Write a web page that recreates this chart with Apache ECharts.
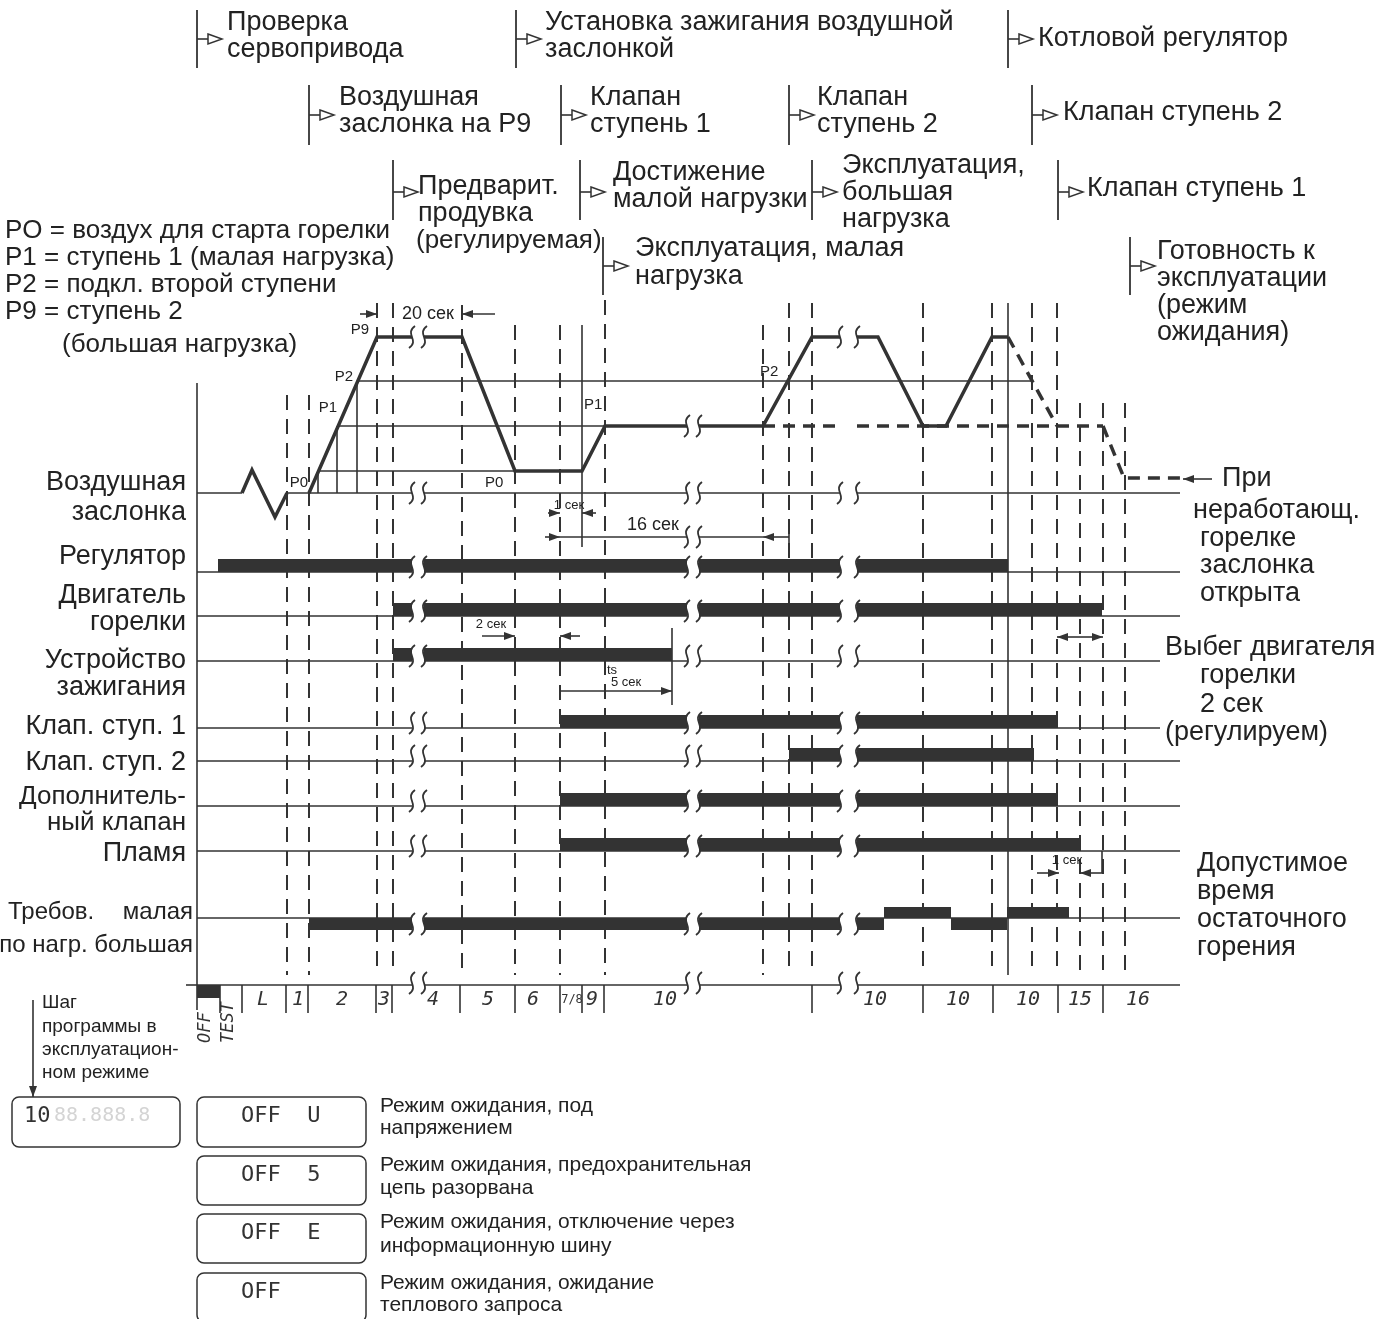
<!DOCTYPE html>
<html>
<head>
<meta charset="utf-8">
<script src="https://cdn.jsdelivr.net/npm/echarts@6/dist/echarts.min.js"></script>
<style>
  html, body { margin: 0; background: #fff; }
  #chart { width: 1396px; height: 1319px; }
</style>
</head>
<body>
<div id="chart"></div>
<script>
// ---- данные диаграммы (ось X = время программы, ось Y = уровень) ----
const breaks = [[412, 424], [687, 699], [840, 857]];   // разрывы шкалы времени
const xStart = 197;

// положения воздушной заслонки
const lvl = { base: 493, P0: 471, P1: 426, P2: 381, P9: 337, open: 478 };

// профиль заслонки
const damperSolid = [
  [[242, lvl.base], [252, 470], [275, 517], [287, lvl.base]],
  [[309, lvl.base], [377, lvl.P9], [412, lvl.P9]],
  [[424, lvl.P9], [462, lvl.P9], [515, lvl.P0], [582, lvl.P0], [605, lvl.P1], [687, lvl.P1]],
  [[699, lvl.P1], [763, lvl.P1], [812, lvl.P9], [840, lvl.P9]],
  [[857, lvl.P9], [878, lvl.P9], [923, lvl.P1], [946, lvl.P1], [992, lvl.P9], [1008, lvl.P9]]
];
const damperDashed = [
  [[763, lvl.P1], [840, lvl.P1]],
  [[857, lvl.P1], [1103, lvl.P1]],
  [[1008, lvl.P9], [1057, lvl.P1]],
  [[1103, lvl.P1], [1124, lvl.open], [1180, lvl.open]]
];
const damperThin = [
  [[xStart, lvl.base], [242, lvl.base]], [[287, lvl.base], [412, lvl.base]],
  [[424, lvl.base], [687, lvl.base]], [[699, lvl.base], [840, lvl.base]], [[857, lvl.base], [1180, lvl.base]],
  [[318, lvl.P0], [515, lvl.P0]], [[337, lvl.P1], [605, lvl.P1]], [[357, lvl.P2], [1032, lvl.P2]],
  [[318, lvl.base], [318, lvl.P0]], [[337, lvl.base], [337, lvl.P1]], [[357, lvl.base], [357, lvl.P2]]
];

// сигналы: базовая линия, конец линии, интервал «вкл»
const signals = [
  { y: 572, end: 1180, on: [218, 1008] },   // Регулятор
  { y: 616, end: 1180, on: [393, 1102] },   // Двигатель горелки
  { y: 661, end: 1160, on: [393, 672] },    // Устройство зажигания
  { y: 728, end: 1160, on: [560, 1058] },   // Клап. ступ. 1
  { y: 761, end: 1180, on: [789, 1034] },   // Клап. ступ. 2
  { y: 806, end: 1180, on: [560, 1058] },   // Дополнительный клапан
  { y: 851, end: 1180, on: [560, 1081] }    // Пламя
];
const demandY = 918;
const demandLow = [[309, 884], [951, 1007]];
const demandHigh = [[884, 951], [1007, 1069]];

// шаги программы (нижняя шкала)
const axisY = 985;
const stepTicks = [220, 242, 286, 308, 376, 392, 460, 515, 560, 582, 604, 812, 923, 993, 1058, 1103];
const stepLabels = [
  [263, 'L'], [298, '1'], [342, '2'], [384, '3'], [433, '4'], [488, '5'], [533, '6'],
  [592, '9'], [665, '10'], [875, '10'], [958, '10'], [1028, '10'], [1080, '15'], [1138, '16']
];

// пунктирные линии моментов переключения [время, верх]
const eventLines = [
  [287, 395], [309, 395], [377, 303], [393, 303], [462, 305], [515, 325], [560, 325], [605, 300],
  [763, 325], [789, 303], [812, 303], [923, 303], [992, 303], [1032, 303], [1057, 303],
  [1080, 403], [1103, 403], [1125, 403]
];
const eventBottom = 975;
const solidLines = [
  [[xStart, 383], [xStart, 1010]], [[1008, 303], [1008, 975]], [[582, 325], [582, 547]],
  [[672, 628], [672, 705]], [[789, 520], [789, 545]], [[1102, 851], [1102, 873]],
  [[186, axisY], [xStart, axisY]]
];

// заголовки фаз: [время, ряд]
const phaseRows = [[10, 68, 39], [85, 145, 115], [160, 220, 192], [237, 295, 266]];
const phaseMarks = [
  [197, 0], [516, 0], [1008, 0], [309, 1], [561, 1], [789, 1], [1032, 1],
  [393, 2], [580, 2], [812, 2], [1058, 2], [603, 3], [1130, 3]
];

// размерные стрелки
const arrows = [
  [[360, 314], [377, 314]], [[495, 314], [462, 314]],
  [[548, 513], [560, 513]], [[596, 513], [582, 513]],
  [[545, 537], [560, 537]], [[789, 537], [763, 537]],
  [[482, 636], [515, 636]], [[580, 636], [560, 636]],
  [[560, 691], [672, 691]],
  [[1080, 637], [1057, 637]], [[1080, 637], [1103, 637]],
  [[1037, 873], [1059, 873]], [[1102, 873], [1080, 873]],
  [[1212, 479], [1183, 479]],
  [[33, 1000], [33, 1097]]
];
const dimLines = [[[560, 537], [687, 537]], [[699, 537], [763, 537]]];

// индикатор
const displayBoxes = [[12, 1097, 180, 1147], [197, 1097, 366, 1147], [197, 1156, 366, 1205], [197, 1214, 366, 1263], [197, 1273, 366, 1322]];

const F = '"Liberation Sans", Arial, Helvetica, sans-serif';
const SEG = '"DejaVu Sans Mono", monospace';
const texts = [
  // фазы
  [227, 23, 'Проверка'], [227, 50, 'сервопривода'],
  [545, 23, 'Установка зажигания воздушной'], [545, 50, 'заслонкой'],
  [1038, 39, 'Котловой регулятор'],
  [339, 98, 'Воздушная'], [339, 125, 'заслонка на P9'],
  [590, 98, 'Клапан'], [590, 125, 'ступень 1'],
  [817, 98, 'Клапан'], [817, 125, 'ступень 2'],
  [1063, 113, 'Клапан ступень 2'],
  [418, 187, 'Предварит.'], [418, 214, 'продувка'], [416, 241, '(регулируемая)', 26],
  [613, 173, 'Достижение'], [613, 200, 'малой нагрузки'],
  [842, 166, 'Эксплуатация,'], [842, 193, 'большая'], [842, 220, 'нагрузка'],
  [1087, 189, 'Клапан ступень 1'],
  [635, 249, 'Эксплуатация, малая'], [635, 277, 'нагрузка'],
  [1157, 252, 'Готовность к'], [1157, 279, 'эксплуатации'], [1157, 306, '(режим'], [1157, 333, 'ожидания)'],
  // легенда
  [5, 231, 'PO = воздух для старта горелки', 26], [5, 258, 'P1 = ступень 1 (малая нагрузка)', 26],
  [5, 285, 'P2 = подкл. второй ступени', 26], [5, 312, 'P9 = ступень 2', 26], [62, 345, '(большая нагрузка)', 26],
  // строки
  [186, 483, 'Воздушная', 27, 'right'], [186, 513, 'заслонка', 27, 'right'],
  [186, 557, 'Регулятор', 27, 'right'],
  [186, 596, 'Двигатель', 27, 'right'], [186, 623, 'горелки', 27, 'right'],
  [186, 661, 'Устройство', 27, 'right'], [186, 688, 'зажигания', 27, 'right'],
  [186, 727, 'Клап. ступ. 1', 27, 'right'], [186, 763, 'Клап. ступ. 2', 27, 'right'],
  [186, 797, 'Дополнитель-', 26, 'right'], [186, 823, 'ный клапан', 26, 'right'],
  [186, 854, 'Пламя', 27, 'right'],
  [8, 912, 'Требов.', 24], [193, 912, 'малая', 24, 'right'], [193, 945, 'по нагр. большая', 24, 'right'],
  // справа
  [1222, 479, 'При'], [1193, 511, 'неработающ.'], [1200, 539, 'горелке'], [1200, 566, 'заслонка'], [1200, 594, 'открыта'],
  [1165, 648, 'Выбег двигателя'], [1200, 676, 'горелки'], [1200, 705, '2 сек'], [1165, 733, '(регулируем)'],
  [1197, 864, 'Допустимое'], [1197, 892, 'время'], [1197, 920, 'остаточного'], [1197, 948, 'горения'],
  // мелкие подписи
  [369, 330, 'P9', 15, 'right'], [353, 377, 'P2', 15, 'right'], [337, 408, 'P1', 15, 'right'],
  [308, 483, 'P0', 15, 'right'], [485, 483, 'P0', 15], [584, 405, 'P1', 15], [760, 372, 'P2', 15],
  [428, 314, '20 сек', 18, 'center'], [569, 505, '1 сек', 13, 'center'], [653, 525, '16 сек', 18, 'center'],
  [491, 624, '2 сек', 13, 'center'], [607, 670, 'ts', 13], [611, 682, '5 сек', 13],
  [1067, 860, '1 сек', 13, 'center'],
  // низ
  [42, 1003, 'Шаг', 19], [42, 1027, 'программы в', 19], [42, 1050, 'эксплуатацион-', 19], [42, 1073, 'ном режиме', 19],
  [380, 1106, 'Режим ожидания, под', 21], [380, 1128, 'напряжением', 21],
  [380, 1165, 'Режим ожидания, предохранительная', 21], [380, 1188, 'цепь разорвана', 21],
  [380, 1222, 'Режим ожидания, отключение через', 21], [380, 1246, 'информационную шину', 21],
  [380, 1283, 'Режим ожидания, ожидание', 21], [380, 1305, 'теплового запроса', 21]
];
const segTexts = [
  [241, 1116, 'OFF  U'], [241, 1175, 'OFF  5'], [241, 1233, 'OFF  E'], [241, 1292, 'OFF'],
  [24, 1116, '10']
];

const ink = '#333';

// ---- вспомогательные функции ----
function splitByBreaks(a, b) {
  const out = [];
  let s = a;
  for (const [b1, b2] of breaks) {
    if (s >= b1 && s < b2) s = b2;
    if (b1 > s && b1 < b) { out.push([s, b1]); s = b2; }
  }
  if (s < b) out.push([s, b]);
  return out;
}

function custom(items, build, z) {
  return {
    type: 'custom', coordinateSystem: 'cartesian2d', silent: true, animation: false, z: z || 2,
    data: items.map(() => [0, 0]),
    renderItem: (params, api) => build(items[params.dataIndex], p => api.coord(p))
  };
}

function polyStyle(w, dash) {
  return { stroke: ink, lineWidth: w, lineDash: dash || null, fill: null, lineJoin: 'miter' };
}
function polySeries(list, w, dash, z) {
  return custom(list, (pl, c) => ({ type: 'polyline', shape: { points: pl.map(c) }, style: polyStyle(w, dash) }), z);
}

function head(tip, from) {
  const dx = tip[0] - from[0], dy = tip[1] - from[1];
  const L = Math.hypot(dx, dy) || 1, ux = dx / L, uy = dy / L, len = 11, hw = 4;
  const bx = tip[0] - ux * len, by = tip[1] - uy * len;
  return { type: 'polygon', shape: { points: [[tip[0], tip[1]], [bx - uy * hw, by + ux * hw], [bx + uy * hw, by - ux * hw]] }, style: { fill: ink } };
}

// ---- сборка элементов ----
const thinLines = damperThin.slice();
const bars = [];
const squiggles = [];

signals.forEach(s => {
  splitByBreaks(xStart, s.end).forEach(([a, b]) => thinLines.push([[a, s.y], [b, s.y]]));
  splitByBreaks(s.on[0], s.on[1]).forEach(([a, b]) => bars.push([a, s.y - 13, b, s.y]));
  breaks.forEach(([a, b]) => { squiggles.push([a, s.y - 5]); squiggles.push([b, s.y - 5]); });
});
splitByBreaks(xStart, 1180).forEach(([a, b]) => thinLines.push([[a, demandY], [b, demandY]]));
demandLow.forEach(([a, b]) => splitByBreaks(a, b).forEach(([p, q]) => bars.push([p, demandY, q, demandY + 12])));
demandHigh.forEach(([a, b]) => bars.push([a, demandY - 11, b, demandY]));
breaks.forEach(([a, b]) => { squiggles.push([a, demandY + 6]); squiggles.push([b, demandY + 6]); });

splitByBreaks(xStart, 1180).forEach(([a, b]) => thinLines.push([[a, axisY], [b, axisY]]));
breaks.forEach(([a, b]) => { squiggles.push([a, axisY - 2]); squiggles.push([b, axisY - 2]); });
stepTicks.forEach(x => thinLines.push([[x, axisY], [x, axisY + 28]]));
bars.push([xStart, axisY, 220, axisY + 13]);

breaks.forEach(([a, b]) => { squiggles.push([a, lvl.base]); squiggles.push([b, lvl.base]); });
[breaks[0], breaks[2]].forEach(([a, b]) => { squiggles.push([a, lvl.P9]); squiggles.push([b, lvl.P9]); });
squiggles.push([breaks[1][0], lvl.P1], [breaks[1][1], lvl.P1], [breaks[1][0], 537], [breaks[1][1], 537]);

solidLines.forEach(l => thinLines.push(l));
dimLines.forEach(l => thinLines.push(l));
const dashedVert = eventLines.map(([x, top]) => [[x, top], [x, eventBottom]]);

const series = [
  polySeries(dashedVert, 2, [15, 9], 1),
  polySeries(thinLines, 1.6, null, 2),
  polySeries(damperDashed, 3.5, [12, 8], 3),
  polySeries(damperSolid, 3.5, null, 4),
  custom(bars, (r, c) => {
    const p1 = c([r[0], r[1]]), p2 = c([r[2], r[3]]);
    return { type: 'rect', shape: { x: p1[0], y: p1[1], width: p2[0] - p1[0], height: p2[1] - p1[1] }, style: { fill: ink } };
  }, 3),
  custom(squiggles, (s, c) => {
    const p = c(s), h = 11;
    return {
      type: 'bezierCurve',
      shape: { x1: p[0] + 3, y1: p[1] - h, cpx1: p[0] - 8, cpy1: p[1] - 3, cpx2: p[0] + 8, cpy2: p[1] + 3, x2: p[0] - 3, y2: p[1] + h },
      style: { stroke: ink, lineWidth: 1.8, fill: null }
    };
  }, 6),
  custom(phaseMarks, (m, c) => {
    const r = phaseRows[m[1]];
    const top = c([m[0], r[0]]), bot = c([m[0], r[1]]), a = c([m[0], r[2]]);
    return {
      type: 'group', children: [
        { type: 'line', shape: { x1: top[0], y1: top[1], x2: bot[0], y2: bot[1] }, style: { stroke: ink, lineWidth: 1.8 } },
        { type: 'line', shape: { x1: a[0], y1: a[1], x2: a[0] + 11, y2: a[1] }, style: { stroke: ink, lineWidth: 1.6 } },
        { type: 'polygon', shape: { points: [[a[0] + 11, a[1] - 5], [a[0] + 25, a[1]], [a[0] + 11, a[1] + 5]] }, style: { fill: '#fff', stroke: ink, lineWidth: 1.5 } }
      ]
    };
  }, 5),
  custom(arrows, (ar, c) => {
    const f = c(ar[0]), t = c(ar[1]);
    return {
      type: 'group', children: [
        { type: 'line', shape: { x1: f[0], y1: f[1], x2: t[0], y2: t[1] }, style: { stroke: ink, lineWidth: 1.6 } },
        head(t, f)
      ]
    };
  }, 5),
  custom(displayBoxes, (b, c) => {
    const p1 = c([b[0], b[1]]), p2 = c([b[2], b[3]]);
    return { type: 'rect', shape: { x: p1[0], y: p1[1], width: p2[0] - p1[0], height: p2[1] - p1[1], r: 7 }, style: { fill: null, stroke: ink, lineWidth: 1.5 } };
  }, 3),
  custom(texts, (t, c) => {
    const p = c([t[0], t[1]]);
    const size = t[3] || 27, align = t[4] || 'left';
    return {
      type: 'text', x: p[0], y: p[1],
      style: { text: t[2], font: size + 'px ' + F, fill: '#222', align: align, textAlign: align, verticalAlign: 'middle', textVerticalAlign: 'middle' }
    };
  }, 7),
  custom(stepLabels, (s, c) => {
    const p = c([s[0], axisY + 15]);
    return {
      type: 'text', x: p[0], y: p[1],
      style: { text: s[1], font: 'italic 20px ' + SEG, fill: '#333', align: 'center', textAlign: 'center', verticalAlign: 'middle', textVerticalAlign: 'middle' }
    };
  }, 7),
  custom([[572, 'OFF/TEST']], (s, c) => {
    const p = c([s[0], axisY + 15]), q1 = c([206, 1043]), q2 = c([229, 1043]);
    const st = (txt) => ({ text: txt, font: 'italic 17px ' + SEG, fill: '#333', align: 'left', textAlign: 'left', verticalAlign: 'middle', textVerticalAlign: 'middle' });
    return {
      type: 'group', children: [
        { type: 'text', x: p[0], y: p[1], style: { text: '7/8', font: '12px ' + SEG, fill: '#333', align: 'center', textAlign: 'center', verticalAlign: 'middle', textVerticalAlign: 'middle' } },
        { type: 'text', x: q1[0], y: q1[1], rotation: Math.PI / 2, style: st('OFF') },
        { type: 'text', x: q2[0], y: q2[1], rotation: Math.PI / 2, style: st('TEST') }
      ]
    };
  }, 7),
  custom(segTexts, (s, c) => {
    const p = c([s[0], s[1]]);
    const ch = [{ type: 'text', x: p[0], y: p[1], style: { text: s[2], font: '22px ' + SEG, fill: '#333', align: 'left', textAlign: 'left', verticalAlign: 'middle', textVerticalAlign: 'middle' } }];
    if (s[2] === '10') {
      ch.push({ type: 'text', x: p[0] + 30, y: p[1], style: { text: '88.888.8', font: '20px ' + SEG, fill: '#d4d4d4', align: 'left', textAlign: 'left', verticalAlign: 'middle', textVerticalAlign: 'middle' } });
    }
    return { type: 'group', children: ch };
  }, 7)
];

const chart = echarts.init(document.getElementById('chart'));
chart.setOption({
  animation: false,
  grid: { left: 0, right: 0, top: 0, bottom: 0 },
  xAxis: { type: 'value', min: 0, max: 1396, show: false },
  yAxis: { type: 'value', min: 0, max: 1319, inverse: true, show: false },
  series: series
});
</script>
</body>
</html>
